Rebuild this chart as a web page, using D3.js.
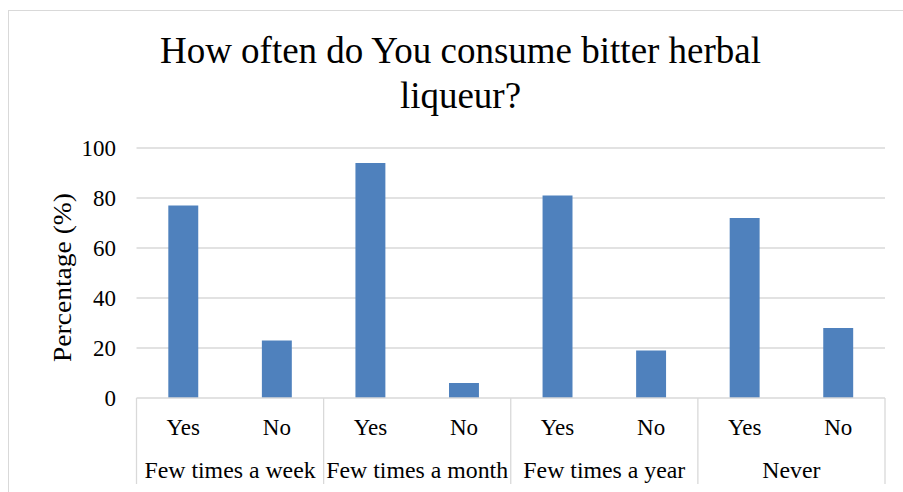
<!DOCTYPE html>
<html>
<head>
<meta charset="utf-8">
<script src="https://cdn.jsdelivr.net/npm/d3@7"></script>
<style>
  html, body { margin: 0; padding: 0; background: #fff; }
  svg { display: block; }
  text { font-family: "Times New Roman", "Liberation Serif", serif; fill: #000; }
</style>
</head>
<body>
<svg id="chart" width="903" height="492"></svg>
<script>
const groups = ["Few times a week", "Few times a month", "Few times a year", "Never"];
const answers = ["Yes", "No"];
const values = [77, 23, 94, 6, 81, 19, 72, 28];
const yTicks = [0, 20, 40, 60, 80, 100];
const titleLines = ["How often do You consume bitter herbal", "liqueur?"];
const yLabel = "Percentage (%)";

const rows = [];
groups.forEach((g, gi) => answers.forEach((a, ai) => {
  rows.push({ key: g + "|" + a, group: g, answer: a, value: values[gi * answers.length + ai] });
}));

const svg = d3.select("#chart");
const plot = { left: 136.5, right: 885, top: 148, bottom: 398 };

// chart border
svg.append("rect").attr("x", 8.5).attr("y", 10.5).attr("width", 920).attr("height", 520)
  .attr("fill", "none").attr("stroke", "#d9d9d9").attr("stroke-width", 1);

const x = d3.scaleBand().domain(rows.map(d => d.key))
  .range([plot.left, plot.right]).paddingInner(0.68).paddingOuter(0.34);
const xg = d3.scaleBand().domain(groups).range([plot.left, plot.right]);
const y = d3.scaleLinear().domain([0, 100]).range([plot.bottom, plot.top]);

// gridlines
svg.append("g").selectAll("line").data(yTicks.filter(t => t > 0)).join("line")
  .attr("x1", plot.left).attr("x2", plot.right)
  .attr("y1", d => y(d)).attr("y2", d => y(d))
  .attr("stroke", "#d9d9d9").attr("stroke-width", 1.3);

// y tick labels
svg.append("g").selectAll("text").data(yTicks).join("text")
  .attr("x", 116).attr("y", d => y(d)).attr("dy", "0.35em")
  .attr("text-anchor", "end").attr("font-size", 23).text(d => d);

// bars
svg.append("g").selectAll("rect").data(rows).join("rect")
  .attr("x", d => x(d.key)).attr("width", x.bandwidth())
  .attr("y", d => y(d.value)).attr("height", d => y(0) - y(d.value))
  .attr("fill", "#4f81bd");

// category axis line
svg.append("line").attr("x1", plot.left).attr("x2", plot.right)
  .attr("y1", plot.bottom).attr("y2", plot.bottom)
  .attr("stroke", "#d9d9d9").attr("stroke-width", 1.3);

// group separators
const seps = groups.map(g => xg(g)).concat([plot.right]);
svg.append("g").selectAll("line").data(seps).join("line")
  .attr("x1", d => d).attr("x2", d => d)
  .attr("y1", plot.bottom).attr("y2", 484)
  .attr("stroke", "#d9d9d9").attr("stroke-width", 1.3);

// answer labels
svg.append("g").selectAll("text").data(rows).join("text")
  .attr("x", d => x(d.key) + x.bandwidth() / 2).attr("y", 427).attr("dy", "0.35em")
  .attr("text-anchor", "middle").attr("font-size", 23).text(d => d.answer);

// group labels
svg.append("g").selectAll("text").data(groups).join("text")
  .attr("x", d => xg(d) + xg.bandwidth() / 2).attr("y", 470).attr("dy", "0.35em")
  .attr("text-anchor", "middle").attr("font-size", 23.8).text(d => d);

// y axis title
svg.append("text").attr("transform", `translate(71,277.5) rotate(-90)`)
  .attr("text-anchor", "middle").attr("font-size", 25)
  .attr("textLength", 169).attr("lengthAdjust", "spacingAndGlyphs").text(yLabel);

// title
svg.append("g").selectAll("text").data(titleLines).join("text")
  .attr("x", 460.5).attr("y", (d, i) => 63 + i * 45)
  .attr("text-anchor", "middle").attr("font-size", 37).text(d => d);
</script>
</body>
</html>
